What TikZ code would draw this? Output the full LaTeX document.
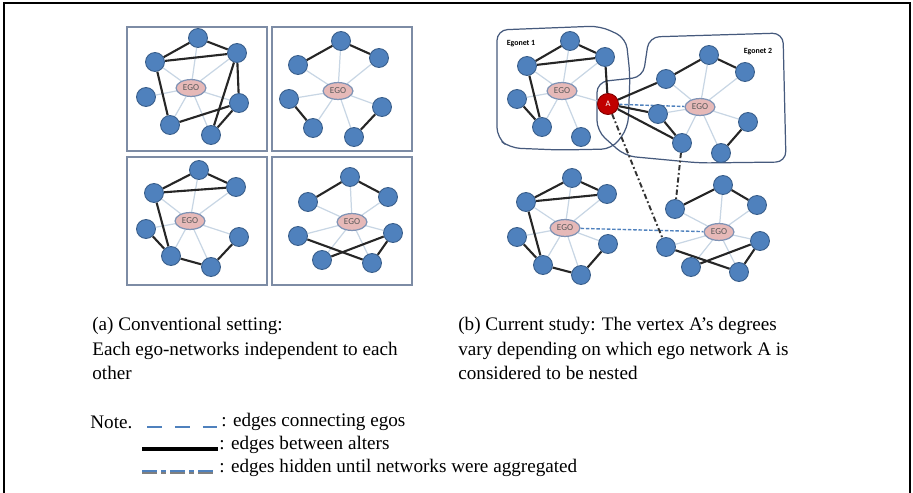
\documentclass[tikz,border=0pt]{standalone}
\usepackage{fontspec}
\setmainfont{Liberation Serif}
\newfontfamily\labelfont{Carlito}
\usetikzlibrary{shapes.geometric,positioning}
\definecolor{alterblue}{RGB}{79,129,189}
\definecolor{alteredge}{RGB}{56,93,138}
\definecolor{egopink}{RGB}{230,185,184}
\definecolor{egoedge}{RGB}{127,147,181}
\definecolor{spokegray}{RGB}{200,214,228}
\definecolor{boxgray}{RGB}{125,140,165}
\definecolor{netline}{RGB}{70,90,125}
\definecolor{vertexred}{RGB}{192,0,0}
\definecolor{linkblue}{RGB}{79,129,189}
\pgfdeclarelayer{bg}
\pgfsetlayers{bg,main}

\begin{document}
\begin{tikzpicture}[x=0.02cm, y=-0.02cm,
    alter/.style={circle, fill=alterblue, draw=alteredge, line width=0.5pt, minimum size=10.8pt, inner sep=0pt},
    ego/.style={ellipse, fill=egopink, draw=egoedge, line width=0.7pt, minimum width=17pt, minimum height=9.6pt, inner sep=0pt, font=\labelfont\fontsize{5.2}{5.5}\selectfont, text=black!65},
    vertexA/.style={circle, fill=vertexred, draw=red!50!black, line width=0.5pt, minimum size=12pt, inner sep=0pt, text=white, font=\labelfont\fontsize{4.8}{5}\selectfont},
    spoke/.style={spokegray, line width=0.7pt},
    tie/.style={black!85, line width=1.2pt},
    egolink/.style={linkblue, line width=0.8pt, dash pattern=on 2pt off 1pt},
    hidden/.style={black!80, line width=1.1pt, dash pattern=on 3pt off 1.5pt on 1pt off 1.5pt},
    panel/.style={boxgray, line width=1.1pt},
    egonet/.style={netline, line width=0.7pt, rounded corners=6pt},
    netname/.style={font=\labelfont\bfseries\fontsize{4.5}{5}\selectfont},
    caption/.style={font=\fontsize{10.9}{14}\selectfont, align=left, inner sep=0pt, anchor=north west},
    keytext/.style={font=\fontsize{10.9}{13.2}\selectfont, inner sep=0pt}
]
    \useasboundingbox (0,0) rectangle (913,493);

    % Frame
    \draw[black, line width=0.8pt] (4,493) -- (4,3) -- (910,3) -- (910,493);

    % (a) four separate panels
    \draw[panel] (127,27) rectangle (267,151);
    \draw[panel] (272,27) rectangle (412,151);
    \draw[panel] (127,157) rectangle (267,285);
    \draw[panel] (272,157) rectangle (412,285);

    % panel 1
    \node[ego] (a1E) at (191,88) {EGO};
    \foreach \nm/\x/\y in {a11/198/38, a12/155/62, a13/237/53, a14/146/97, a15/239/103, a16/170/125, a17/211/135}
        \node[alter] (\nm) at (\x,\y) {};
    % panel 2
    \node[ego] (a2E) at (338,91) {EGO};
    \foreach \nm/\x/\y in {a21/341/41, a22/298/65, a23/379/58, a24/289/99, a25/313/128, a26/382/107, a27/354/137}
        \node[alter] (\nm) at (\x,\y) {};
    % panel 3
    \node[ego] (a3E) at (190,221) {EGO};
    \foreach \nm/\x/\y in {a31/199/170, a32/154/193, a33/236/187, a34/146/229, a35/239/237, a36/171/256, a37/211/267}
        \node[alter] (\nm) at (\x,\y) {};
    % panel 4
    \node[ego] (a4E) at (352,222) {EGO};
    \foreach \nm/\x/\y in {a41/350/177, a42/308/202, a43/388/197, a44/298/236, a45/393/233, a46/322/260, a47/372/263}
        \node[alter] (\nm) at (\x,\y) {};

    % (b) overlapping ego networks
    \node[vertexA] (A) at (608,104) {A};
    \node[ego] (b1E) at (562,91) {EGO};
    \foreach \nm/\x/\y in {b11/570/41, b12/527/66, b13/605/57, b14/517/99, b15/542/127, b16/581/137}
        \node[alter] (\nm) at (\x,\y) {};
    \node[ego] (b2E) at (700,107) {EGO};
    \foreach \nm/\x/\y in {b21/709/55, b22/666/79, b23/745/72, b24/658/114, b25/682/143, b26/748/122, b27/721/153}
        \node[alter] (\nm) at (\x,\y) {};
    \node[ego] (b3E) at (565,228) {EGO};
    \foreach \nm/\x/\y in {b31/572/178, b32/526/202, b33/607/194, b34/517/237, b35/608/244, b36/543/265, b37/581/275}
        \node[alter] (\nm) at (\x,\y) {};
    \node[ego] (b4E) at (719,232) {EGO};
    \foreach \nm/\x/\y in {b41/723/185, b42/675/209, b43/757/205, b44/666/247, b45/760/241, b46/691/267, b47/739/272}
        \node[alter] (\nm) at (\x,\y) {};

    \node[netname] (net1) at (521,44) {Egonet 1};
    \node[netname] (net2) at (758,52) {Egonet 2};

    \begin{pgfonlayer}{bg}
        % egonet outlines
        \draw[egonet] (497,30) -- (600,26) -- (626,38) -- (630,75) -- (628,128) -- (612,149) -- (560,150) -- (510,148) -- (497,138) -- cycle;
        \draw[egonet] (597,82) -- (643,77) -- (649,37) -- (783,33) -- (786,162) -- (700,163) -- (625,156) -- (597,131) -- cycle;

        % spokes
        \foreach \p in {a1,a2,a3,a4,b2,b3,b4}
            \foreach \i in {1,...,7}
                \draw[spoke] (\p E) -- (\p\i);
        \foreach \i in {1,...,6}
            \draw[spoke] (b1E) -- (b1\i);
        \draw[spoke] (b1E) -- (A);

        % edges between alters
        \foreach \a/\b in {1/2,1/3,2/3,2/6,3/7,3/5,5/6,5/7}
            \draw[tie] (a1\a) -- (a1\b);
        \foreach \a/\b in {1/2,1/3,4/5,6/7}
            \draw[tie] (a2\a) -- (a2\b);
        \foreach \a/\b in {1/2,1/3,2/3,2/6,4/6,6/7,7/5}
            \draw[tie] (a3\a) -- (a3\b);
        \foreach \a/\b in {1/2,1/3,4/7,6/5,5/7}
            \draw[tie] (a4\a) -- (a4\b);
        \foreach \a/\b in {1/2,1/3,2/3,2/5,4/5}
            \draw[tie] (b1\a) -- (b1\b);
        \draw[tie] (b13) -- (A);
        \foreach \a/\b in {1/2,1/3,4/5,6/7}
            \draw[tie] (b2\a) -- (b2\b);
        \foreach \n in {2,4,5}
            \draw[tie] (A) -- (b2\n);
        \foreach \a/\b in {1/2,1/3,2/3,2/6,4/6,6/7,7/5}
            \draw[tie] (b3\a) -- (b3\b);
        \foreach \a/\b in {1/2,1/3,4/7,6/5,5/7}
            \draw[tie] (b4\a) -- (b4\b);

        % edges connecting egos
        \draw[egolink] (A) -- (b2E);
        \draw[egolink] (b3E) -- (b4E);

        % hidden edges
        \draw[hidden] (A) -- (b44);
        \draw[hidden] (b25) -- (b42);
    \end{pgfonlayer}

    % Captions
    \node[caption] (capA) at (92,317) {(a) Conventional setting:\\Each ego-networks independent to each\\other};
    \node[caption] (capB) at (458,317) {(b) Current study: The vertex A’s degrees\\vary depending on which ego network A is\\considered to be nested};

    % Legend
    \node[keytext, anchor=west] (note) at (90,422) {Note.};
    \coordinate (k1a) at (147,427);
    \coordinate (k1b) at (217,427);
    \coordinate (k2a) at (142,449);
    \coordinate (k2b) at (218,449);
    \coordinate (k3a) at (142,472);
    \coordinate (k3b) at (215,472);
    \draw[linkblue, line width=1pt, dash pattern=on 8.5pt off 7.4pt] (k1a) -- (k1b);
    \draw[black, line width=1.8pt] (k2a) -- (k2b);
    \draw[gray, line width=1.2pt, dash pattern=on 8.5pt off 2.5pt on 2.5pt off 2.5pt] ([yshift=-0.6pt]k3a) -- ([yshift=-0.6pt]k3b);
    \draw[linkblue, line width=1.2pt, dash pattern=on 8.5pt off 2.5pt on 2.5pt off 2.5pt] ([yshift=0.6pt]k3a) -- ([yshift=0.6pt]k3b);
    \node[keytext, anchor=west] (key1) at (221,422) {: edges connecting egos};
    \node[keytext, anchor=west] (key2) at (219,445) {: edges between alters};
    \node[keytext, anchor=west] (key3) at (219,468) {: edges hidden until networks were aggregated};
\end{tikzpicture}
\end{document}
